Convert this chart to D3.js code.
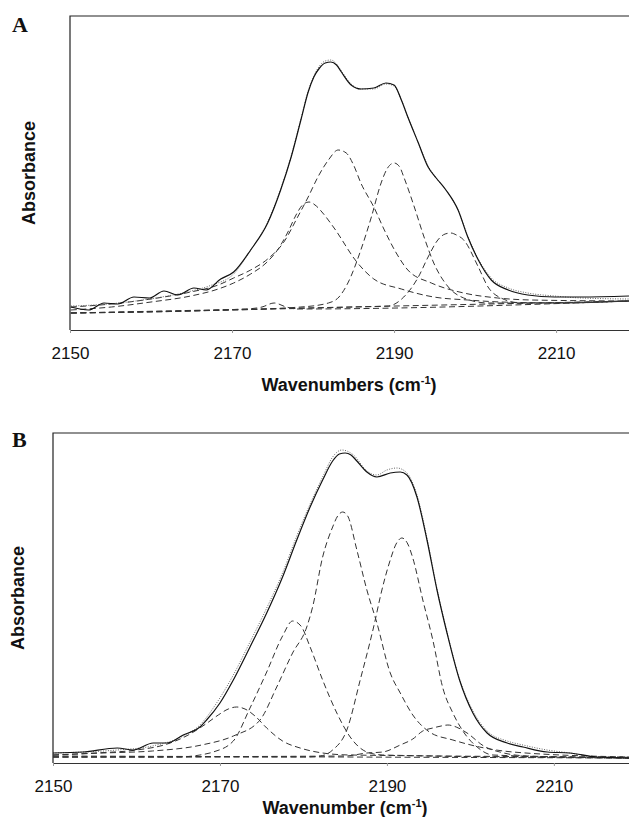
<!DOCTYPE html>
<html>
<head>
<meta charset="utf-8">
<script src="https://cdn.jsdelivr.net/npm/d3@7"></script>
<style>
  body { margin: 0; background: #fff; }
  svg { display: block; }
  .tick text { font-family: "Liberation Sans", Arial, sans-serif; font-size: 17px; fill: #111; }
  .tick line { stroke: #999; }
  .title { font-family: "Liberation Sans", Arial, sans-serif; font-weight: bold; font-size: 18px; fill: #111; }
  .panel { font-family: "Liberation Serif", "Times New Roman", serif; font-weight: bold; font-size: 22px; fill: #111; }
</style>
</head>
<body>
<svg id="chart" width="629" height="817"></svg>
<script>
// x: wavenumber (cm-1), y: absorbance (arbitrary units)
var xTicks = [2150, 2170, 2190, 2210];

// ---- panel A ----
var aMeasured = [[2150.1,.023],[2152.3,.020],[2154.2,.027],[2155.9,.026],[2157.9,.033],[2159.8,.032],[2161.6,.039],[2163.3,.035],[2165.3,.042],[2166.8,.040],[2168.6,.051],[2170.2,.058],[2172.3,.080],[2174.4,.107],[2176.0,.140],[2177.3,.173],[2178.5,.210],[2179.4,.238],[2180.1,.253],[2180.8,.262],[2181.5,.267],[2182.2,.268],[2182.9,.265],[2183.5,.258],[2184.7,.245],[2185.9,.241],[2187.5,.242],[2189.0,.247],[2190.0,.245],[2190.9,.230],[2191.7,.213],[2193.0,.187],[2194.2,.163],[2195.2,.152],[2196.4,.140],[2197.9,.120],[2199.1,.093],[2200.4,.070],[2202.0,.050],[2204.1,.040],[2206.5,.035],[2209.8,.033],[2213.1,.033],[2219.0,.034]];
var aFit = [[2150.1,.024],[2153.0,.025],[2156.0,.027],[2159.0,.030],[2162.0,.034],[2165.0,.039],[2167.5,.045],[2170.2,.056],[2172.3,.080],[2174.4,.108],[2176.0,.141],[2177.3,.174],[2178.5,.211],[2179.4,.239],[2180.1,.254],[2180.8,.264],[2181.5,.269],[2182.2,.270],[2182.9,.266],[2183.5,.259],[2184.7,.246],[2185.9,.241],[2187.5,.241],[2189.0,.246],[2190.0,.244],[2190.9,.230],[2191.7,.213],[2193.0,.187],[2194.2,.164],[2195.2,.152],[2196.4,.140],[2197.9,.120],[2199.1,.094],[2200.4,.071],[2202.0,.052],[2204.1,.042],[2206.5,.037],[2209.8,.034],[2213.1,.032],[2219.0,.031]];
var aBand1 = [[2150.1,.020],[2155.1,.023],[2160.0,.028],[2164.9,.034],[2168.3,.041],[2170.2,.047],[2172.3,.056],[2174.2,.067],[2175.7,.081],[2176.9,.098],[2177.9,.115],[2178.7,.125],[2179.5,.128],[2180.4,.124],[2181.2,.117],[2182.6,.102],[2185.5,.067],[2187.5,.051],[2190.9,.041],[2194.9,.033],[2199.1,.030],[2203.2,.028],[2210.6,.027],[2219.0,.029]];
var aBand2 = [[2150.1,.023],[2155.1,.026],[2160.0,.031],[2164.9,.038],[2168.3,.045],[2170.2,.052],[2172.3,.060],[2174.4,.071],[2176.4,.088],[2178.1,.113],[2179.4,.133],[2180.6,.153],[2181.9,.170],[2183.1,.180],[2184.1,.177],[2185.0,.165],[2185.9,.147],[2187.5,.123],[2188.8,.100],[2190.2,.078],[2191.7,.060],[2194.6,.047],[2198.6,.037],[2202.8,.032],[2206.9,.030],[2219.0,.029]];
var aBand3 = [[2150.1,.017],[2165.0,.019],[2178.5,.023],[2181.9,.027],[2183.2,.033],[2184.3,.047],[2185.9,.080],[2187.2,.113],[2188.4,.147],[2189.2,.162],[2190.0,.167],[2190.7,.163],[2191.2,.153],[2192.5,.123],[2193.7,.093],[2194.9,.067],[2196.7,.043],[2198.6,.032],[2201.6,.027],[2210.0,.027],[2219.0,.029]];
var aBand4 = [[2150.1,.017],[2185.0,.023],[2189.3,.024],[2191.2,.033],[2193.0,.053],[2194.2,.073],[2195.4,.090],[2196.3,.096],[2197.0,.097],[2197.7,.095],[2198.6,.090],[2200.4,.063],[2201.6,.043],[2203.2,.032],[2205.7,.027],[2219.0,.029]];
var aBand5 = [[2150.1,.017],[2171.7,.021],[2173.7,.023],[2175.2,.027],[2176.7,.023],[2178.0,.021],[2219.0,.029]];
var aBaseline = [[2150.1,.017],[2219.0,.029]];

// ---- panel B ----
var bMeasured = [[2150.0,.010],[2153.6,.011],[2157.7,.015],[2159.6,.013],[2162.0,.020],[2163.7,.020],[2165.6,.028],[2167.6,.036],[2168.4,.043],[2170.0,.060],[2171.6,.083],[2173.6,.116],[2175.6,.150],[2177.5,.186],[2179.2,.223],[2180.8,.256],[2182.3,.283],[2183.5,.302],[2184.3,.309],[2185.0,.310],[2185.7,.308],[2186.4,.302],[2187.6,.291],[2188.8,.286],[2190.4,.290],[2191.6,.291],[2192.4,.288],[2193.6,.266],[2194.8,.223],[2196.0,.173],[2197.2,.130],[2198.7,.083],[2200.3,.050],[2202.0,.030],[2204.4,.020],[2206.3,.016],[2209.2,.011],[2211.9,.010],[2215.1,.006],[2219.0,.005]];
var bFit = [[2150.0,.010],[2153.6,.011],[2157.7,.013],[2161.9,.017],[2165.6,.027],[2167.6,.038],[2169.6,.060],[2171.6,.088],[2173.6,.121],[2175.6,.155],[2177.5,.190],[2179.2,.227],[2180.8,.259],[2182.3,.286],[2183.5,.306],[2184.6,.313],[2186.0,.308],[2187.6,.292],[2188.8,.288],[2190.0,.293],[2191.2,.295],[2192.4,.290],[2193.6,.268],[2194.8,.225],[2196.0,.174],[2197.2,.131],[2198.7,.084],[2200.3,.052],[2202.0,.032],[2204.4,.022],[2206.3,.018],[2209.2,.013],[2211.9,.010],[2215.1,.006],[2219.0,.005]];
var bBand1 = [[2150.0,.008],[2155.0,.010],[2160.0,.013],[2163.7,.019],[2166.2,.028],[2168.3,.039],[2169.8,.048],[2171.0,.054],[2172.0,.056],[2173.0,.054],[2174.2,.047],[2175.6,.035],[2177.5,.022],[2179.6,.015],[2182.3,.010],[2185.6,.008],[2219.0,.006]];
var bBand2 = [[2150.0,.006],[2165.0,.006],[2167.6,.008],[2169.2,.011],[2171.6,.022],[2173.6,.055],[2175.6,.091],[2177.5,.127],[2178.7,.142],[2179.7,.137],[2180.8,.116],[2182.3,.083],[2184.0,.050],[2185.6,.026],[2187.6,.011],[2189.5,.008],[2219.0,.005]];
var bBand3 = [[2150.0,.008],[2156.0,.010],[2161.9,.012],[2167.8,.018],[2171.6,.027],[2174.8,.043],[2176.8,.076],[2178.7,.110],[2180.4,.136],[2181.1,.156],[2182.3,.206],[2183.5,.236],[2184.1,.247],[2184.7,.251],[2185.3,.247],[2186.4,.213],[2187.6,.173],[2188.8,.140],[2190.4,.090],[2191.6,.070],[2193.1,.048],[2195.1,.031],[2197.9,.023],[2201.1,.016],[2205.1,.011],[2219.0,.006]];
var bBand4 = [[2150.0,.006],[2180.0,.006],[2182.0,.007],[2183.5,.013],[2185.2,.033],[2186.8,.083],[2188.6,.143],[2189.2,.166],[2190.4,.203],[2191.1,.219],[2191.8,.225],[2192.5,.219],[2193.1,.205],[2194.3,.163],[2195.5,.123],[2196.7,.075],[2197.9,.050],[2199.1,.032],[2200.8,.016],[2202.7,.008],[2219.0,.005]];
var bBand5 = [[2150.0,.006],[2185.0,.007],[2187.6,.010],[2189.5,.011],[2191.6,.018],[2193.1,.024],[2194.3,.032],[2195.5,.035],[2196.5,.037],[2197.3,.038],[2198.3,.036],[2199.6,.030],[2201.6,.017],[2204.0,.010],[2206.9,.007],[2219.0,.005]];
var bBaseline = [[2150.0,.007],[2219.0,.005]];

var svg = d3.select("#chart");

function drawPanel(p) {
  var x = d3.scaleLinear().domain([2150, 2219]).range([p.left, 629]),
      y = d3.scaleLinear().domain([0, p.top_abs]).range([p.bottom, p.top]);

  var g = svg.append("g");

  var line = d3.line()
      .x(function(d) { return x(d[0]); })
      .y(function(d) { return y(d[1]); })
      .curve(d3.curveMonotoneX);

  // frame (no right edge visible in the original)
  g.append("path")
    .attr("d", "M" + 629 + "," + p.top + "H" + p.left + "V" + p.bottom)
    .attr("fill", "none")
    .attr("stroke", "#222")
    .attr("stroke-width", 1.2);

  g.append("g")
    .attr("transform", "translate(0," + p.bottom + ")")
    .call(d3.axisBottom(x).tickValues(xTicks).tickFormat(d3.format("d")).tickSizeInner(3).tickSizeOuter(0).tickPadding(14))
    .call(function(a) { a.select(".domain").attr("stroke", "#333").attr("stroke-width", 1.2); });

  // fitted components + baseline, dashed
  p.bands.forEach(function(b) {
    g.append("path")
      .datum(b)
      .attr("d", line)
      .attr("fill", "none")
      .attr("stroke", "#333")
      .attr("stroke-width", 1)
      .attr("stroke-dasharray", "6,3.5");
  });

  // fit envelope, dotted
  g.append("path")
    .datum(p.fit)
    .attr("d", line)
    .attr("fill", "none")
    .attr("stroke", "#666")
    .attr("stroke-width", 1)
    .attr("stroke-dasharray", "1,1.5");

  // measured spectrum
  g.append("path")
    .datum(p.measured)
    .attr("d", line)
    .attr("fill", "none")
    .attr("stroke", "#111")
    .attr("stroke-width", 1.2);

  g.append("text")
    .attr("class", "panel")
    .attr("x", 12)
    .attr("y", p.labelY)
    .text(p.label);

  g.append("text")
    .attr("class", "title")
    .attr("transform", "translate(" + p.yTitleX + "," + p.yTitleY + ") rotate(-90)")
    .attr("text-anchor", "middle")
    .text("Absorbance");

  var t = g.append("text")
    .attr("class", "title")
    .attr("x", p.xTitleX)
    .attr("y", p.xTitleY)
    .attr("text-anchor", "middle");
  t.append("tspan").text(p.xTitle + " (cm");
  t.append("tspan").attr("dy", -7).style("font-size", "11px").text("-1");
  t.append("tspan").attr("dy", 7).text(")");
}

drawPanel({
  left: 70, top: 16, bottom: 330, top_abs: 0.314,
  measured: aMeasured, fit: aFit,
  bands: [aBaseline, aBand5, aBand1, aBand2, aBand3, aBand4],
  label: "A", labelY: 32,
  yTitleX: 35, yTitleY: 173,
  xTitle: "Wavenumbers", xTitleX: 349, xTitleY: 391
});

drawPanel({
  left: 53, top: 433, bottom: 763, top_abs: 0.330,
  measured: bMeasured, fit: bFit,
  bands: [bBaseline, bBand1, bBand2, bBand3, bBand4, bBand5],
  label: "B", labelY: 447,
  yTitleX: 24, yTitleY: 598,
  xTitle: "Wavenumber", xTitleX: 345, xTitleY: 814
});
</script>
</body>
</html>
